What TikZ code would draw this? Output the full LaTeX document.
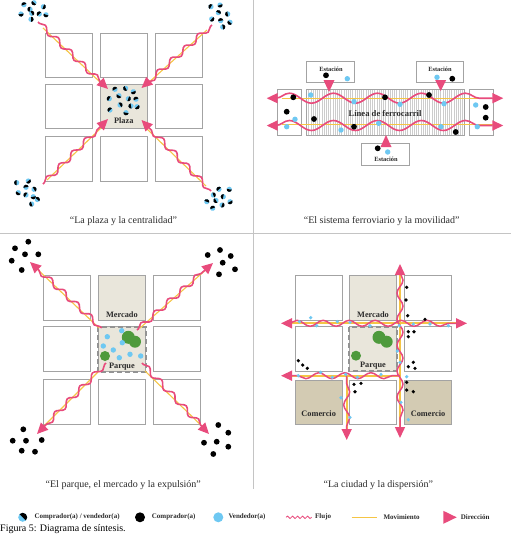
\documentclass[tikz,border=0pt]{standalone}
\usepackage{fontspec}
\setmainfont{Liberation Serif}
\usetikzlibrary{decorations.pathmorphing,arrows.meta}
\definecolor{cpink}{HTML}{E84B7C}
\definecolor{cblue}{HTML}{6EC8F2}
\definecolor{cyel}{HTML}{F5C545}
\definecolor{cgrid}{HTML}{A3A3A3}
\definecolor{cline}{HTML}{C4C4C4}
\definecolor{cbeige}{HTML}{E9E6DB}
\definecolor{ccom}{HTML}{D3CBB3}
\definecolor{cgreen}{HTML}{4E9A3C}
\definecolor{ctext}{HTML}{2A2A2A}
\newcommand{\hd}[3]{\begin{scope}[shift={(#1,#2)},rotate=#3]\fill[cblue] (0,0) circle (2.6pt);\fill[black] (0:2.6pt) arc (0:180:2.6pt) -- cycle;\end{scope}}
\newcommand{\bd}[2]{\fill[black] (#1,#2) circle (2.9pt);}
\newcommand{\ld}[2]{\fill[cblue] (#1,#2) circle (2.7pt);}
\newcommand{\sbd}[2]{\fill[black] (#1,#2) circle (1.8pt);}
\newcommand{\sld}[2]{\fill[cblue] (#1,#2) circle (1.8pt);}
\tikzset{
  cellbox/.style={draw=cgrid, line width=0.9pt, fill=white},
  parkbox/.style={draw=cgrid!90!black, line width=1.8pt, dash pattern=on 5pt off 3pt},
  lbl/.style={font=\fontsize{8.3}{9}\selectfont\bfseries, text=ctext, inner sep=0pt},
  stlbl/.style={font=\fontsize{6.4}{7}\selectfont\bfseries, text=ctext, inner sep=0pt},
  capt/.style={font=\fontsize{10}{11}\selectfont, text=ctext, inner sep=0pt, anchor=base},
  legt/.style={font=\fontsize{7}{8}\selectfont\bfseries, text=ctext, inner sep=0pt, anchor=west},
  mov/.style={draw=cyel, line width=1.1pt},
  road/.style={draw=cyel, line width=2pt},
  flowA/.style={draw=cpink, line width=1.6pt, decorate, decoration={snake, amplitude=2.8pt, segment length=18pt, pre length=2pt, post length=9pt}},
  flowB/.style={draw=cpink, line width=1.6pt, decorate, decoration={snake, amplitude=5pt, segment length=44pt, pre length=9pt, post length=9pt}},
  flowC/.style={draw=cpink, line width=1.5pt, decorate, decoration={snake, amplitude=3pt, segment length=26pt, pre length=8pt, post length=8pt}},
  tip/.style={-{Triangle[length=11pt,width=10pt]}},
  tips/.style={{Triangle[length=11pt,width=10pt]}-{Triangle[length=11pt,width=10pt]}},
}
\begin{document}
\begin{tikzpicture}[x=1pt,y=-1pt]
\useasboundingbox (0,0) rectangle (511,539);
% dividers
\draw[cline, line width=0.8pt] (253,0) -- (253,489);
\draw[cline, line width=0.8pt] (0,233) -- (511,233);

%%%%% Top-left: plaza
\foreach \x in {45,100,155} \foreach \y in {33.3,84.3,136.7} \draw[cellbox] (\x,\y) rectangle ++(47.5,44.5);
\draw[cellbox, fill=cbeige] (100,84.3) rectangle ++(47.5,44.5);
\node[lbl] (plaza) at (123.8,121) {Plaza};
\draw[mov] (43,28) -- (101,83);
\draw[mov] (207,30) -- (147,84);
\draw[mov] (47,180) -- (101,128);
\draw[mov] (206,186) -- (147,129);
\draw[flowA, tip] (38,22) -- (108,89);
\draw[flowA, tip] (212,25) -- (141.5,88);
\draw[flowA, tip] (43,184) -- (108,119);
\draw[flowA, tip] (211,191) -- (141.5,120);
% plaza dots
\hd{115}{89.3}{30}\hd{125.7}{88.3}{120}\hd{133.3}{91.7}{200}\hd{109.3}{98.7}{60}
\hd{119}{95.7}{150}\hd{128.3}{98.7}{250}\hd{136}{99.3}{20}\hd{120}{105}{300}
\hd{131}{106}{100}\hd{137}{106.7}{220}\hd{110}{110}{45}\hd{126}{112.7}{170}
% clusters
\hd{24}{4.7}{20}\hd{34}{2.7}{140}\hd{43.3}{6.7}{250}\hd{30}{9.3}{80}\hd{21}{14}{190}
\hd{31.7}{13.3}{300}\hd{39.3}{14}{45}\hd{46}{14.7}{160}\hd{31}{19.3}{270}
\hd{211}{6.7}{60}\hd{220}{5}{200}\hd{218.3}{12.7}{330}\hd{227.7}{14}{100}\hd{211.7}{19}{230}
\hd{220.7}{20.7}{10}\hd{230}{22.3}{140}\hd{222.7}{27}{280}
\hd{16.7}{182.7}{90}\hd{28.3}{181}{220}\hd{26}{187.3}{10}\hd{18.3}{192.7}{150}\hd{34}{189.3}{300}
\hd{26}{195}{60}\hd{33.3}{196.7}{190}\hd{37.3}{199.5}{320}\hd{31.7}{204}{110}
\hd{219}{189.3}{40}\hd{229.3}{189.3}{170}\hd{213.3}{195}{290}\hd{223.3}{196.7}{80}\hd{230}{201.7}{210}
\hd{206.7}{201.7}{340}\hd{216}{200.5}{120}\hd{222}{205}{250}\hd{212.7}{208.3}{20}
\node[capt] (c1) at (123.5,223) {“La plaza y la centralidad”};

%%%%% Top-right: railway
\draw[cgrid, line width=0.9pt, fill=white] (306.7,89.3) rectangle (464,135);
\foreach \x in {308.5,310.7,...,463} \draw[gray!40, line width=0.35pt] (\x,89.8) -- (\x,134.5);
\draw[cgrid, line width=0.9pt] (306.7,89.3) rectangle (464,135);
\draw[cellbox] (277,89.3) rectangle (301,135);
\draw[cellbox] (469,89.3) rectangle (493.3,135);
\draw[cellbox] (306.7,61.7) rectangle (354.3,82.7);
\draw[cellbox] (416.3,61.7) rectangle (463.7,82.7);
\draw[cellbox] (361.7,143.3) rectangle (409,165);
\node[stlbl] (st1) at (331,69.3) {Estación};
\node[stlbl] (st2) at (440,69.3) {Estación};
\node[stlbl] (st3) at (386,159.3) {Estación};
\node[lbl, font=\fontsize{8.6}{9}\selectfont\bfseries] (rail) at (385,113.3) {Línea de ferrocarril};
\bd{326}{75.3}\ld{347.3}{78.7}\ld{437}{77.3}\bd{452.3}{78.7}\bd{377.7}{148.3}\ld{387.7}{152}
\fill[cpink] (323.5,80) -- (334.5,80) -- (329,92) -- cycle;
\fill[cpink] (435.2,80) -- (446.2,80) -- (440.7,91) -- cycle;
\fill[cpink] (380.5,147) -- (391.5,147) -- (386,135) -- cycle;
\draw[mov] (281.7,98.7) -- (493,98.7);
\draw[mov] (281.7,124.3) -- (493,124.3);
\draw[flowB, tips] (266.7,98.2) -- (503.3,98.2);
\draw[flowB, tips] (266.7,125.5) -- (503.3,125.5);
\bd{293.3}{97.3}\ld{310.7}{95}\ld{354}{101.7}\bd{385}{97.3}\ld{400}{104.3}\bd{429}{95}
\ld{444}{103.7}\ld{475.7}{105}\bd{485.7}{107}\bd{286.7}{111.7}\ld{295}{119.3}\bd{485.7}{117.7}
\ld{286.7}{126.7}\bd{314}{119}\ld{341}{130}\bd{354}{126.7}\ld{378.7}{123.3}\ld{441}{126.7}
\bd{455.7}{132}\ld{477.3}{126.7}
\node[capt] (c2) at (381.7,223) {“El sistema ferroviario y la movilidad”};

%%%%% Bottom-left: parque, mercado, expulsion
\foreach \x in {43.3,98.3,153.3} \foreach \y in {275,326.7,379.3} \draw[cellbox] (\x,\y) rectangle ++(47.5,45);
\draw[cellbox, fill=cbeige] (98.3,275) rectangle ++(47.5,45);
\draw[cellbox, fill=cbeige] (98.3,326.7) rectangle ++(47.5,45);
\draw[parkbox] (98.3,326.7) rectangle ++(47.5,45);
\node[lbl] (merc1) at (121.9,314.3) {Mercado};
\node[lbl] (parq1) at (121.9,366.7) {Parque};
\fill[cgreen] (128.3,337.3) circle (6.5pt);
\fill[cgreen] (135,341.7) circle (6pt);
\fill[cgreen] (105,356) circle (5pt);
\ld{107.3}{336.7}\ld{121.7}{330.7}\ld{103.3}{346}\ld{113.3}{350}\ld{122.3}{342.7}
\ld{119.3}{357.7}\ld{130}{354.3}\ld{140.7}{356}
\draw[mov] (99,328) -- (34,266);
\draw[mov] (140,328) -- (209,267);
\draw[mov] (99,371) -- (40,430);
\draw[mov] (145,371) -- (206,430);
\draw[flowA, tip] (101.7,328) -- (30,262);
\draw[flowA, tip] (137,330) -- (213,263);
\draw[flowA, tip] (106,363) -- (37,434);
\draw[flowA, tip] (142,363) -- (209,434);
\bd{28.3}{241.7}\bd{15}{248.3}\bd{25}{254.3}\bd{38.3}{254.3}\bd{11.7}{260.7}\bd{21.7}{270}
\bd{220}{250}\bd{207.7}{255}\bd{230.7}{256}\bd{222.7}{262.7}\bd{235}{269.3}\bd{219}{274.3}
\bd{23.3}{429.3}\bd{12.7}{440.7}\bd{26}{440.7}\bd{41.7}{440}\bd{21.7}{450.7}\bd{35}{451.7}
\bd{218.3}{425}\bd{228.3}{432.7}\bd{204}{442.7}\bd{216.7}{441.7}\bd{228.3}{446.7}\bd{213.3}{454}
\node[capt] (c3) at (123.3,487) {“El parque, el mercado y la expulsión”};

%%%%% Bottom-right: ciudad y dispersion
\foreach \x in {295,349.3,404.3} \foreach \y in {275.7,326.7,380} \draw[cellbox] (\x,\y) rectangle ++(47.5,44.5);
\draw[cellbox, fill=cbeige] (349.3,275.7) rectangle ++(47.5,44.5);
\draw[cellbox, fill=cbeige] (349.3,326.7) rectangle ++(47.5,44.5);
\draw[parkbox] (349.3,326.7) rectangle ++(47.5,44.5);
\draw[cellbox, fill=ccom] (295,380) rectangle ++(47.5,44.5);
\draw[cellbox, fill=ccom] (404.3,380) rectangle ++(47.5,44.5);
\node[lbl] (merc2) at (373,314.3) {Mercado};
\node[lbl] (parq2) at (373,366) {Parque};
\node[lbl] (com1) at (318.7,414) {Comercio};
\node[lbl] (com2) at (428,414) {Comercio};
\fill[cgreen] (379,337.3) circle (6.5pt);
\fill[cgreen] (386.7,341.7) circle (6pt);
\fill[cgreen] (356,355.7) circle (5pt);
\draw[road] (285,323.3) -- (462,323.3);
\draw[road] (285,375.7) -- (400,375.7);
\draw[road] (400,268) -- (400,433);
\draw[road] (346.7,375.7) -- (346.7,433);
\draw[flowC, tips] (281,323.3) -- (467,323.3);
\draw[flowC, tip] (400,375.7) -- (281,375.7);
\draw[flowC, tips] (400,264) -- (400,438);
\draw[flowC, tip] (346.7,375.7) -- (346.7,440);
\sld{299.3}{321.7}\sld{310.7}{317.7}\sld{316.7}{325.7}\sld{337.3}{321.7}\sld{350}{322.3}
\sld{370}{325.7}\sld{399.3}{325.7}\sld{413.3}{324}\sld{430}{324}\sld{448.3}{325.7}
\sld{397.3}{351}\sld{400}{362.3}\sld{406.7}{376.7}\sld{401}{402.3}\sld{408.3}{419.7}
\sld{298.3}{375.7}\sld{320.7}{372.3}\sld{332.3}{377.3}\sld{345.7}{374.3}\sld{357.3}{377.3}\sld{381}{374.3}
\sld{341}{397.7}\sld{350}{417.3}
\sbd{406.7}{287.3}\sbd{406}{300}\sbd{407.7}{315.7}\sbd{425}{319.3}\sbd{408.3}{331.7}\sbd{414}{331.7}
\sbd{408.3}{336.7}\sbd{408.3}{366.7}\sbd{413.3}{362.3}\sbd{415}{368.3}\sbd{406.7}{382.3}\sbd{406.7}{390}
\sbd{413.3}{391.7}\sbd{298.3}{360.7}\sbd{302.7}{365}\sbd{307.3}{368.3}\sbd{354}{384.3}\sbd{361}{383.3}\sbd{355}{391.7}
\node[capt] (c4) at (378.3,487) {“La ciudad y la dispersión”};

%%%%% Legend
\begin{scope}[shift={(22.7,517.3)},rotate=-45]\fill[cblue] (0,0) circle (4.5pt);\fill[black] (0:4.5pt) arc (0:180:4.5pt) -- cycle;\end{scope}
\node[legt] (l1) at (34.3,517.3) {Comprador(a) / vendedor(a)};
\fill[black] (140,517.3) circle (5pt);
\node[legt] (l2) at (151.7,517.3) {Comprador(a)};
\fill[cblue] (218.3,517.3) circle (5pt);
\node[legt] (l3) at (228.3,517.3) {Vendedor(a)};
\coordinate (w1) at (286,517.3);
\coordinate (w2) at (311.7,517.3);
\draw[cpink, line width=0.8pt, decorate, decoration={snake, amplitude=1.2pt, segment length=5pt}] (w1) -- (w2);
\node[legt] (l4) at (315,517.3) {Flujo};
\coordinate (y1) at (351.7,517.3);
\coordinate (y2) at (376.7,517.3);
\draw[cyel, line width=1.6pt] (y1) -- (y2);
\node[legt] (l5) at (383.3,517.3) {Movimiento};
\fill[cpink] (443.3,510.8) -- (456.7,517.3) -- (443.3,523.8) -- cycle;
\node[legt] (l6) at (460.7,517.3) {Dirección};
\node[font=\fontsize{10}{11}\selectfont, inner sep=0pt, anchor=base west] (fig) at (0,531) {Figura 5: Diagrama de síntesis.};
\end{tikzpicture}
\end{document}
